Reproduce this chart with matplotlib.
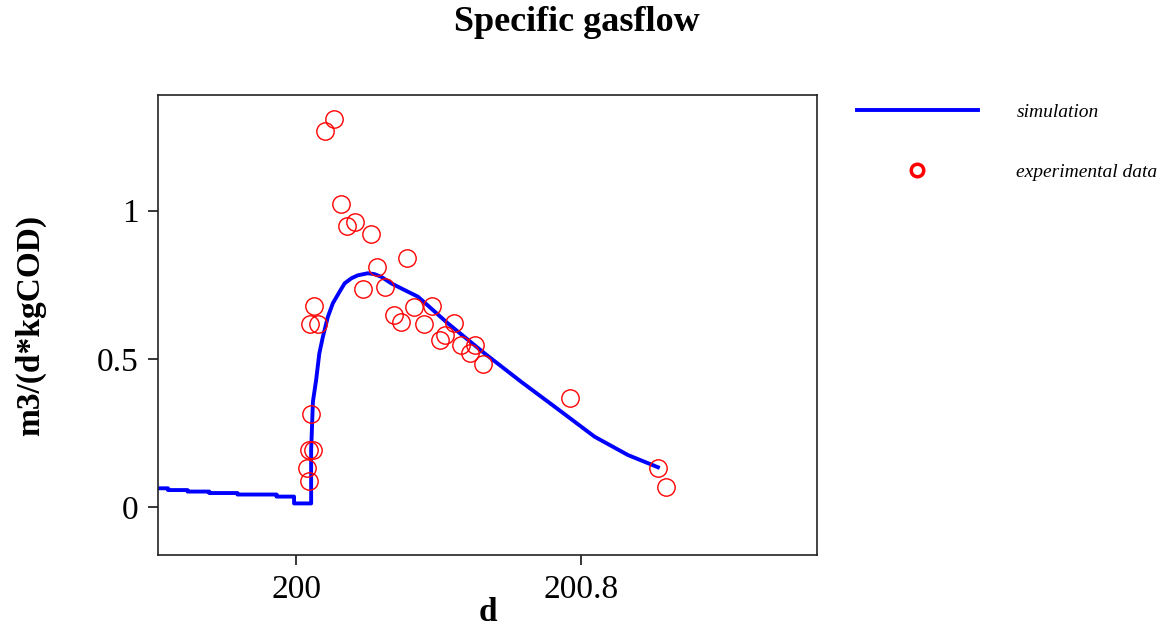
"""
Specific gasflow: simulation vs experimental data.
"""
import matplotlib

matplotlib.use("Agg")
import matplotlib.pyplot as plt  # noqa: E402
from matplotlib.lines import Line2D  # noqa: E402

# simulated specific gas flow, m3/(d*kgCOD)
sim_d = [199.612, 199.640, 199.640, 199.695, 199.695, 199.756, 199.756, 199.835, 199.835,
         199.945, 199.945, 199.994, 199.994, 200.042, 200.042, 200.047, 200.056, 200.065,
         200.075, 200.089, 200.103, 200.122, 200.136, 200.155, 200.173, 200.201, 200.220,
         200.239, 200.267, 200.300, 200.342, 200.426, 200.529, 200.632, 200.726, 200.838,
         200.932, 201.016]
sim_flow = [0.064, 0.064, 0.058, 0.058, 0.053, 0.053, 0.048, 0.048, 0.043,
            0.043, 0.036, 0.036, 0.013, 0.013, 0.193, 0.356, 0.429, 0.519,
            0.575, 0.642, 0.688, 0.727, 0.755, 0.772, 0.782, 0.789, 0.786,
            0.777, 0.755, 0.735, 0.710, 0.620, 0.519, 0.423, 0.339, 0.238,
            0.176, 0.135]

# measured points
exp_d = [200.105, 200.081, 200.126, 200.143, 200.166, 200.211, 200.312, 200.228, 200.188,
         200.250, 200.049, 200.040, 200.061, 200.274, 200.295, 200.332, 200.381, 200.359,
         200.443, 200.403, 200.417, 200.463, 200.503, 200.487, 200.526, 200.042, 200.036,
         200.047, 200.031, 200.035, 200.768, 201.016, 201.039]
exp_flow = [1.308, 1.269, 1.022, 0.948, 0.963, 0.921, 0.839, 0.809, 0.737,
            0.744, 0.679, 0.618, 0.618, 0.648, 0.626, 0.676, 0.678, 0.617,
            0.622, 0.564, 0.581, 0.547, 0.547, 0.519, 0.482, 0.314, 0.193,
            0.193, 0.131, 0.089, 0.367, 0.131, 0.069]

x_ticks = [200, 200.8]
x_tick_labels = ["200", "200.8"]
y_ticks = [0, 0.5, 1]
y_tick_labels = ["0", "0.5", "1"]

plt.rcParams["font.family"] = ["Liberation Serif", "DejaVu Serif"]

fig = plt.figure(figsize=(11.75, 6.30), dpi=100)
ax = fig.add_axes([0.1345, 0.1190, 0.5609, 0.7302])

ax.plot(sim_d, sim_flow, color="#0000ff", lw=2.8)
ax.plot(exp_d, exp_flow, ls="none", marker="o", ms=12.5, mfc="none", mec="#ff0000", mew=1.0)

ax.set_xlim(199.612, 201.463)
ax.set_ylim(-0.161, 1.39)
ax.set_xticks(x_ticks)
ax.set_xticklabels(x_tick_labels)
ax.set_yticks(y_ticks)
ax.set_yticklabels(y_tick_labels)
ax.tick_params(direction="out", length=7, width=1.1, labelsize=24, pad=7, color="black")
for s in ax.spines.values():
    s.set_linewidth(1.2)
    s.set_color("#222222")

ax.set_xlabel("d", fontsize=24, fontweight="bold")
ax.xaxis.set_label_coords(0.5, -0.092)
ax.set_ylabel("m3/(d*kgCOD)", fontsize=24, fontweight="bold")
ax.yaxis.set_label_coords(-0.17, 0.5)

fig.text(0.491, 0.965, "Specific gasflow", fontsize=26, fontweight="bold",
         ha="center", va="center")

handles = [
    Line2D([], [], color="#0000ff", lw=2.8),
    Line2D([], [], ls="none", marker="o", ms=9, mfc="none", mec="#ff0000", mew=2.5),
]
fig.legend(handles, ["simulation", "experimental data"], loc="upper left",
           bbox_to_anchor=(0.7294, 0.8365), frameon=False, borderpad=0, borderaxespad=0,
           handlelength=6.2, handletextpad=2.0, labelspacing=2.2,
           prop={"style": "italic", "size": 14})

fig.savefig("out.png", dpi=100)
